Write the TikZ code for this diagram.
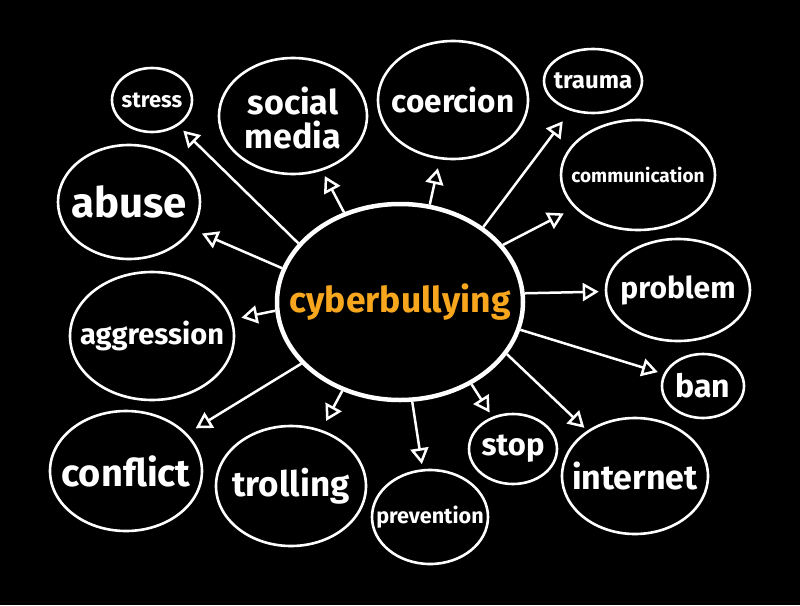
\documentclass[tikz,border=0pt]{standalone}
\usepackage{fontspec}
\setmainfont{Fira Sans}
\usepackage{tikz}
\usetikzlibrary{arrows.meta, shapes.geometric}
\definecolor{bullyorange}{RGB}{247,166,30}

\begin{document}
\begin{tikzpicture}[x=1pt, y=-1pt, every node/.style={align=center}]
\tikzset{
  bubble/.style={ellipse, draw=white, line width=2.6pt, inner sep=0pt},
  word/.style={text=white, inner sep=0pt, font=\bfseries\fontsize{#1}{#1}\selectfont},
  arrow/.style={draw=white, line width=2.5pt, -{Triangle[open, length=16pt, width=18pt]}}
}
\fill[black] (0,0) rectangle (800,605);

% centre
\node (hub) [bubble, line width=4.5pt, minimum width=246pt, minimum height=196pt,
  label={[word=35.5, text=bullyorange]center:cyberbullying}] at (400,302) {};

% topics
\node (stress) [bubble, minimum width=80pt, minimum height=64pt, label={[word=22]center:stress}] at (152,100) {};
\node (social) [bubble, minimum width=148pt, minimum height=116pt, label={[word=34, yshift=-2pt]center:social\\media}] at (293,116) {};
\node (coercion) [bubble, minimum width=150pt, minimum height=118pt, label={[word=31.5]center:coercion}] at (453,100) {};
\node (trauma) [bubble, minimum width=98pt, minimum height=64pt, label={[word=24]center:trauma}] at (593,81) {};
\node (communication) [bubble, minimum width=154pt, minimum height=110pt, label={[word=19]center:communication}] at (638,175) {};
\node (abuse) [bubble, minimum width=142pt, minimum height=114pt, label={[word=42]center:abuse}] at (129,202) {};
\node (problem) [bubble, minimum width=144pt, minimum height=102pt, label={[word=30]center:problem}] at (678,290) {};
\node (aggression) [bubble, minimum width=164pt, minimum height=128pt, label={[word=29]center:aggression}] at (152,336) {};
\node (ban) [bubble, minimum width=82pt, minimum height=64pt, label={[word=32]center:ban}] at (703,386) {};
\node (conflict) [bubble, minimum width=152pt, minimum height=120pt, label={[word=38]center:conflict}] at (126,471) {};
\node (trolling) [bubble, minimum width=150pt, minimum height=120pt, label={[word=35]center:trolling}] at (291,486) {};
\node (prevention) [bubble, minimum width=116pt, minimum height=94pt, label={[word=21.6]center:prevention}] at (430,517) {};
\node (stop) [bubble, minimum width=88pt, minimum height=70pt, label={[word=31]center:stop}] at (513,449) {};
\node (internet) [bubble, minimum width=146pt, minimum height=116pt, label={[word=34]center:internet}] at (635,476) {};

% arrows
\draw [arrow, shorten >=7pt] (hub.150) -- (stress);
\draw [arrow, shorten >=6pt] (hub.122) -- (social);
\draw [arrow, shorten >=9pt] (hub.73.5) -- (coercion);
\draw [arrow, shorten >=13pt] (hub.42) -- (trauma);
\draw [arrow, shorten >=12pt] (hub.29) -- (communication);
\draw [arrow, shorten >=10pt] (hub.164) -- (abuse);
\draw [arrow, shorten >=9pt] (hub.184) -- (aggression);
\draw [arrow, shorten >=6pt] (hub.4) -- (problem);
\draw [arrow, shorten >=6pt] (hub.-13) -- (ban);
\draw [arrow, shorten >=4pt] (hub.-26) -- (internet);
\draw [arrow, shorten >=5pt] (hub.-49.5) -- (stop);
\draw [arrow, shorten >=5pt] (hub.-83) -- (prevention);
\draw [arrow, shorten >=10pt] (hub.-123) -- (trolling);
\draw [arrow, shorten >=10pt] (hub.-148) -- (conflict);
\end{tikzpicture}
\end{document}
